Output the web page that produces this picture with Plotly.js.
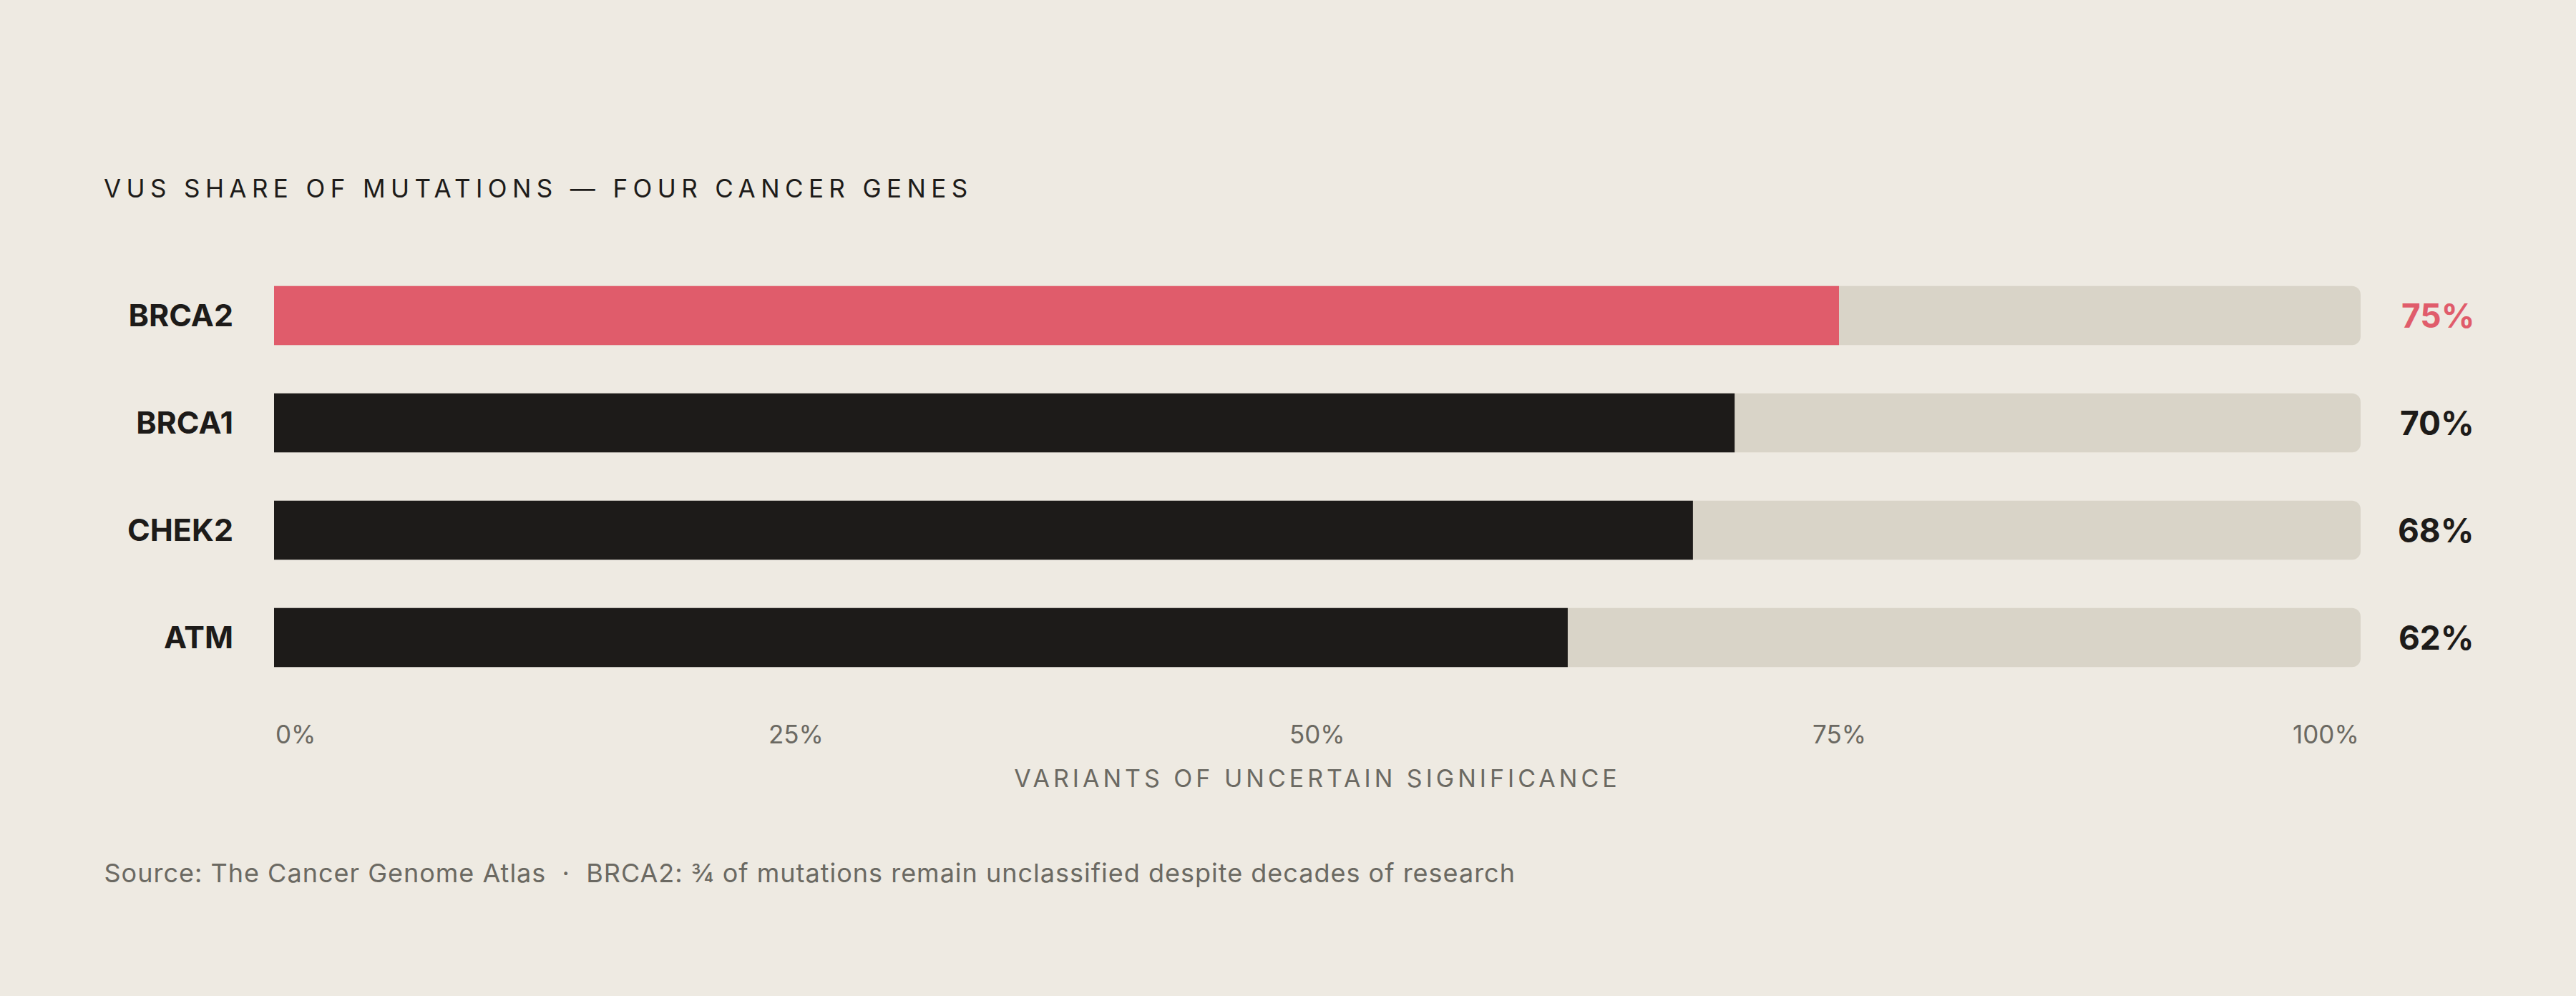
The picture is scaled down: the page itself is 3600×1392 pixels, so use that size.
<!DOCTYPE html>
<html>
<head>
<meta charset="utf-8">
<script src="https://cdn.plot.ly/plotly-3.0.1.min.js"></script>
<style>
  html, body { margin: 0; padding: 0; background: #EEEAE2; }
  .gtitle { letter-spacing: 7.4px; }
  .g-xtitle text { letter-spacing: 5px; }
  .footer-note text { letter-spacing: 1px; }
</style>
</head>
<body>
<div id="chart" style="width:3600px;height:1392px;"></div>
<script>
// data
const genes = ['BRCA2', 'BRCA1', 'CHEK2', 'ATM'];
const vusShare = [75, 70, 68, 62];
const trackMax = [100, 100, 100, 100];
const barColors = ['#E05C6B', '#1D1B19', '#1D1B19', '#1D1B19'];
const tickVals = [0, 25, 50, 75, 100];
const tickText = ['0%', '25%', '50%', '75%', '100%'];
const tickAnchor = ['left', 'center', 'center', 'center', 'right'];

const track = {
    type: 'bar',
    orientation: 'h',
    y: genes,
    x: trackMax,
    marker: { color: '#D9D4C8', cornerradius: 12 },
    hoverinfo: 'skip'
};

const share = {
    type: 'bar',
    orientation: 'h',
    y: genes,
    x: vusShare,
    marker: { color: barColors, cornerradius: 12 },
    hoverinfo: 'skip'
};

// value labels on the right (paper x so they are not dropped off-range)
const valueNotes = genes.map((g, i) => ({
    xref: 'paper', yref: 'y',
    x: 1.0552, y: g,
    xanchor: 'right', yanchor: 'middle',
    text: vusShare[i] + '%',
    showarrow: false,
    font: { family: 'Inter', size: 46, weight: 700, color: barColors[i] }
}));

// tick labels, end ones kept inside the track
const tickNotes = tickVals.map((v, i) => ({
    xref: 'x', yref: 'paper',
    x: v, y: 0,
    xanchor: tickAnchor[i], yanchor: 'middle',
    yshift: -60,
    text: tickText[i],
    showarrow: false,
    font: { family: 'Inter', size: 35, color: '#6B6962' }
}));

// letter-spacing widens the text around its centre, so nudge it back right
const footer = {
    xref: 'paper', yref: 'paper',
    x: (145 - 383) / 2916, y: 0,
    xanchor: 'left', yanchor: 'middle',
    xshift: 51,
    yshift: -254,
    text: 'Source: The Cancer Genome Atlas  ·  BRCA2: ¾ of mutations remain unclassified despite decades of research',
    showarrow: false,
    font: { family: 'Inter', size: 36, color: '#6B6962' }
};

const layout = {
    width: 3600,
    height: 1392,
    margin: { l: 383, r: 301, t: 366, b: 426 },
    paper_bgcolor: '#EEEAE2',
    plot_bgcolor: '#EEEAE2',
    barmode: 'overlay',
    bargap: 0.45,
    showlegend: false,
    hovermode: false,
    title: {
        text: 'VUS SHARE OF MUTATIONS — FOUR CANCER GENES',
        xref: 'container', yref: 'container',
        x: 145 / 3600, y: 1 - 264 / 1392,
        xanchor: 'left', yanchor: 'middle',
        font: { family: 'Inter', size: 35, color: '#1D1B19' }
    },
    xaxis: {
        range: [0, 100],
        showgrid: false,
        zeroline: false,
        showline: false,
        showticklabels: false,
        fixedrange: true,
        title: {
            text: 'VARIANTS OF UNCERTAIN SIGNIFICANCE',
            standoff: 110,
            font: { family: 'Inter', size: 34, color: '#6B6962' }
        }
    },
    yaxis: {
        autorange: 'reversed',
        showgrid: false,
        zeroline: false,
        showline: false,
        ticks: '',
        ticklabelstandoff: 56,
        tickfont: { family: 'Inter', size: 43, weight: 700, color: '#1D1B19' },
        fixedrange: true
    },
    annotations: valueNotes.concat(tickNotes, [footer])
};

Plotly.newPlot('chart', [track, share], layout, { displayModeBar: false, staticPlot: true }).then(() => {
    // tag the footer so its spacing can be styled
    const notes = document.querySelectorAll('.annotation');
    notes[notes.length - 1].classList.add('footer-note');
});
</script>
</body>
</html>
